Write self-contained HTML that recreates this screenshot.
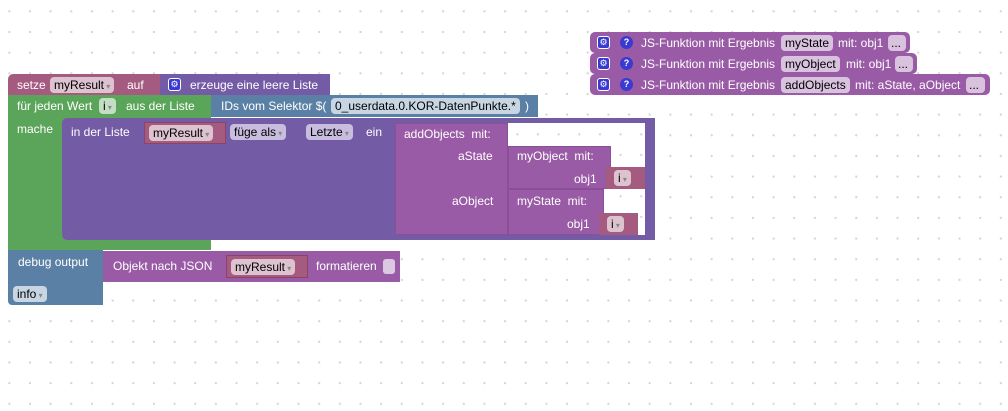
<!DOCTYPE html>
<html><head><meta charset="utf-8"><style>
body{margin:0;width:1008px;height:411px;overflow:hidden;background:#fff;
background-image:radial-gradient(circle,#d4d4d4 1px,transparent 1.3px);background-size:20.67px 20.67px;background-position:-1px 1px;
font-family:"Liberation Sans",Arial,sans-serif;font-size:12px;color:#fff;position:relative}
.b{position:absolute;box-sizing:border-box}
.t{position:absolute;white-space:nowrap;line-height:14px}
.f{position:absolute;box-sizing:border-box;border-radius:4px;color:#000;line-height:16px;height:16px;padding:0 4px;white-space:nowrap}
.dd:after{content:" ▾";font-size:8px;color:#888}
.ic{position:absolute;width:13px;height:13px;border-radius:3px;background:#3a3ad0;border:1px solid #fff;box-sizing:border-box;font-size:9px;line-height:11px;text-align:center;color:#fff}
.q{position:absolute;width:13px;height:13px;border-radius:50%;background:#3a3ad0;font-size:9px;font-weight:bold;line-height:13px;text-align:center;color:#fff}
</style></head><body>

<!-- JS functions -->
<div class="b" style="left:590px;top:32px;width:320px;height:21px;background:#995ba5;border-radius:5px"></div>
<div class="b" style="left:590px;top:53px;width:327px;height:21px;background:#995ba5;border-radius:5px"></div>
<div class="b" style="left:590px;top:74px;width:400px;height:21px;background:#995ba5;border-radius:5px"></div>
<div class="ic" style="left:597px;top:36px">⚙</div><div class="q" style="left:620px;top:36px">?</div>
<div class="t" style="left:641px;top:36px">JS-Funktion mit Ergebnis</div>
<div class="f" style="left:781px;top:35px;background:#d8c2dd">myState</div>
<div class="t" style="left:838px;top:36px">mit: obj1</div>
<div class="f" style="left:888px;top:35px;background:#d8c2dd;width:18px;padding:0 3px">...</div>
<div class="ic" style="left:597px;top:57px">⚙</div><div class="q" style="left:620px;top:57px">?</div>
<div class="t" style="left:641px;top:57px">JS-Funktion mit Ergebnis</div>
<div class="f" style="left:781px;top:56px;background:#d8c2dd">myObject</div>
<div class="t" style="left:846px;top:57px">mit: obj1</div>
<div class="f" style="left:895px;top:56px;background:#d8c2dd;width:18px;padding:0 3px">...</div>
<div class="ic" style="left:597px;top:78px">⚙</div><div class="q" style="left:620px;top:78px">?</div>
<div class="t" style="left:641px;top:78px">JS-Funktion mit Ergebnis</div>
<div class="f" style="left:781px;top:77px;background:#d8c2dd">addObjects</div>
<div class="t" style="left:855px;top:78px">mit: aState, aObject</div>
<div class="f" style="left:966px;top:77px;background:#d8c2dd;width:19px;padding:0 3px">...</div>

<!-- set block -->
<div class="b" style="left:8px;top:74px;width:153px;height:21px;background:#a55b80;border-radius:5px 0 0 0"></div>
<div class="t" style="left:17px;top:78px">setze</div>
<div class="f" style="left:50px;top:77px;background:#dcc3cf" ><span class="dd">myResult</span></div>
<div class="t" style="left:127px;top:78px">auf</div>
<div class="b" style="left:160px;top:74px;width:170px;height:21px;background:#745ba5"></div>
<div class="ic" style="left:168px;top:78px">⚙</div>
<div class="t" style="left:190px;top:78px">erzeuge eine leere Liste</div>

<!-- for each -->
<div class="b" style="left:8px;top:95px;width:203px;height:155px;background:#5ba55b"></div>
<div class="t" style="left:17px;top:99px">für jeden Wert</div>
<div class="f" style="left:99px;top:98px;background:#c3dfc3"><span class="dd">i</span></div>
<div class="t" style="left:126px;top:99px">aus der Liste</div>
<div class="t" style="left:17px;top:122px">mache</div>
<div class="b" style="left:211px;top:95px;width:327px;height:22px;background:#5b80a5"></div>
<div class="t" style="left:221px;top:99px">IDs vom Selektor $(</div>
<div class="f" style="left:331px;top:98px;background:#c8d5e3">0_userdata.0.KOR-DatenPunkte.*</div>
<div class="t" style="left:525px;top:99px">)</div>

<!-- in der Liste -->
<div class="b" style="left:62px;top:118px;width:593px;height:122px;background:#745ba5;border-radius:5px 0 0 5px"></div>
<div class="b" style="left:508px;top:123px;width:137px;height:112px;background:#fff;background-image:radial-gradient(circle,#d4d4d4 1px,transparent 1.3px);background-size:20.67px 20.67px;background-position:-1px 1px"></div>
<div class="t" style="left:71px;top:125px">in der Liste</div>
<div class="b" style="left:144px;top:122px;width:82px;height:22px;background:#a55b80;border:1px solid #8a4468"></div>
<div class="f" style="left:149px;top:125px;background:#dcc3cf"><span class="dd">myResult</span></div>
<div class="f" style="left:230px;top:124px;background:#c9bddf"><span class="dd">füge als</span></div>
<div class="f" style="left:306px;top:124px;background:#c9bddf"><span class="dd">Letzte</span></div>
<div class="t" style="left:366px;top:125px">ein</div>

<div class="b" style="left:395px;top:123px;width:113px;height:112px;background:#995ba5;border:1px solid #8a4f96"></div>
<div class="t" style="left:404px;top:127px">addObjects&nbsp; mit:</div>
<div class="t" style="left:458px;top:149px">aState</div>
<div class="t" style="left:452px;top:194px">aObject</div>
<div class="b" style="left:508px;top:146px;width:103px;height:43px;background:#995ba5;border:1px solid #8a4f96"></div>
<div class="t" style="left:517px;top:149px">myObject&nbsp; mit:</div>
<div class="t" style="left:574px;top:172px">obj1</div>
<div class="b" style="left:606px;top:167px;width:39px;height:22px;background:#a55b80"></div>
<div class="f" style="left:614px;top:170px;background:#dcc3cf"><span class="dd">i</span></div>
<div class="b" style="left:508px;top:189px;width:96px;height:46px;background:#995ba5;border:1px solid #8a4f96"></div>
<div class="t" style="left:517px;top:194px">myState&nbsp; mit:</div>
<div class="t" style="left:567px;top:217px">obj1</div>
<div class="b" style="left:599px;top:213px;width:39px;height:22px;background:#a55b80"></div>
<div class="f" style="left:607px;top:216px;background:#dcc3cf"><span class="dd">i</span></div>

<!-- debug -->
<div class="b" style="left:8px;top:250px;width:95px;height:55px;background:#5b80a5;border-radius:0 0 0 4px"></div>
<div class="t" style="left:18px;top:255px">debug output</div>
<div class="f" style="left:13px;top:286px;background:#c8d5e3"><span class="dd">info</span></div>
<div class="b" style="left:103px;top:251px;width:297px;height:31px;background:#995ba5"></div>
<div class="t" style="left:113px;top:259px">Objekt nach JSON</div>
<div class="b" style="left:226px;top:255px;width:82px;height:23px;background:#a55b80;border:1px solid #8a4468"></div>
<div class="f" style="left:231px;top:259px;background:#dcc3cf"><span class="dd">myResult</span></div>
<div class="t" style="left:316px;top:259px">formatieren</div>
<div class="b" style="left:383px;top:259px;width:12px;height:15px;background:#dcc8e0;border-radius:3px"></div>
</body></html>
